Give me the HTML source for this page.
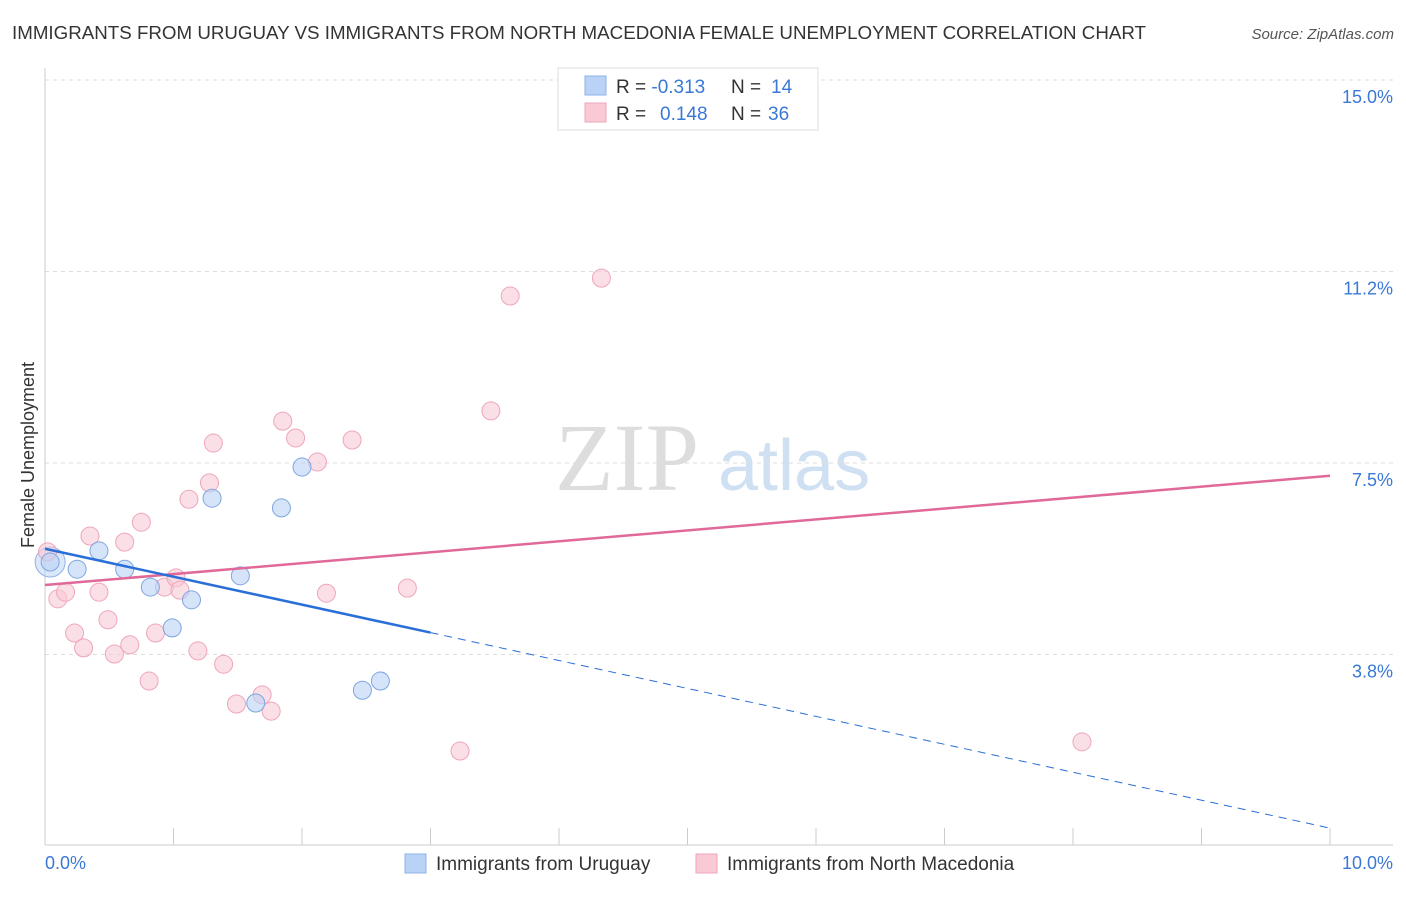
<!DOCTYPE html>
<html><head><meta charset="utf-8"><style>
body{margin:0;background:#fff;font-family:"Liberation Sans",sans-serif;}
</style></head><body>
<svg id="chart" width="1406" height="892" xmlns="http://www.w3.org/2000/svg" font-family="Liberation Sans, sans-serif">
<text x="12" y="39" font-size="18" fill="#333" textLength="1134" lengthAdjust="spacingAndGlyphs">IMMIGRANTS FROM URUGUAY VS IMMIGRANTS FROM NORTH MACEDONIA FEMALE UNEMPLOYMENT CORRELATION CHART</text>
<text x="1394" y="39" font-size="15" fill="#555" font-style="italic" text-anchor="end">Source: ZipAtlas.com</text>
<text x="555" y="490" font-size="96" fill="#ddd" font-family="Liberation Serif, serif">ZIP</text>
<text x="718" y="490" font-size="72" fill="#cfe0f3">atlas</text>
<g id="grid"></g>
<g id="axes"></g>
<g id="marks"></g>
<text transform="translate(34,455) rotate(-90)" font-size="18" fill="#333" text-anchor="middle">Female Unemployment</text>
<text x="45" y="869" font-size="18" fill="#3a78d6">0.0%</text>
<text x="1393" y="869" font-size="18" fill="#3a78d6" text-anchor="end">10.0%</text>
<g>
<rect x="558" y="68" width="260" height="62" fill="#fff" stroke="#ddd"/>
<rect x="585" y="76" width="21" height="19" fill="#b9d2f5" stroke="#8fb2e8"/>
<rect x="585" y="103" width="21" height="19" fill="#f9c9d6" stroke="#eea6ba"/>
<text x="616" y="93" font-size="19" fill="#333">R = <tspan fill="#3a78d6">-0.313</tspan><tspan x="731">N = </tspan><tspan x="771" fill="#3a78d6">14</tspan></text>
<text x="616" y="120" font-size="19" fill="#333">R = <tspan x="660" fill="#3a78d6">0.148</tspan><tspan x="731">N = </tspan><tspan x="768" fill="#3a78d6">36</tspan></text>
</g>
<g>
<rect x="405" y="854" width="21" height="19" fill="#b9d2f5" stroke="#8fb2e8"/>
<text x="436" y="870" font-size="19" fill="#333">Immigrants from Uruguay</text>
<rect x="696" y="854" width="21" height="19" fill="#f9c9d6" stroke="#eea6ba"/>
<text x="727" y="870" font-size="19" fill="#333">Immigrants from North Macedonia</text>
</g>
</svg>
<script>
const yTicks=[3.75,7.5,11.25,15];
const yTickLabels=["3.8%","7.5%","11.2%","15.0%"];
const blueX=[0.04,0.25,0.42,0.62,0.82,0.99,1.14,1.30,1.52,1.64,1.84,2.00,2.47,2.61];
const blueY=[5.56,5.42,5.78,5.42,5.07,4.27,4.82,6.81,5.29,2.80,6.62,7.42,3.05,3.23];
const pinkX=[0.02,0.10,0.16,0.23,0.30,0.35,0.42,0.49,0.54,0.62,0.66,0.75,0.81,0.86,0.93,1.02,1.05,1.12,1.19,1.28,1.31,1.39,1.49,1.69,1.76,1.85,1.95,2.12,2.19,2.39,2.82,3.23,3.47,3.62,4.33,8.07];
const pinkY=[5.76,4.84,4.97,4.17,3.88,6.07,4.97,4.43,3.76,5.95,3.94,6.34,3.23,4.17,5.07,5.25,5.01,6.79,3.82,7.11,7.89,3.56,2.78,2.96,2.64,8.32,7.99,7.52,4.95,7.95,5.05,1.86,8.52,10.77,11.12,2.04];
const blueTrend=[5.82,0.35];
const pinkTrend=[5.11,7.25];
const blueSolidEnd=3.0;
const NS="http://www.w3.org/2000/svg";
const xs=v=>45+v*128.5, ys=v=>846-v*51.07;
function mk(t,a,p){const e=document.createElementNS(NS,t);for(const k in a)e.setAttribute(k,a[k]);p.appendChild(e);return e;}
const grid=document.getElementById('grid'),axes=document.getElementById('axes'),marks=document.getElementById('marks');
yTicks.forEach((t,i)=>{
 const l=mk('line',{x1:45,x2:1393,y1:ys(t),y2:ys(t),stroke:'#ddd','stroke-dasharray':'4,4'},grid);
 
 
 const tx=mk('text',{x:1393,y:ys(t)+23,'font-size':18,fill:'#3a78d6','text-anchor':'end'},grid);
 tx.textContent=yTickLabels[i];
 
 
});
const ya=mk('line',{x1:45,x2:45,y1:68,y2:845,stroke:'#ccc'},axes);


const xa=mk('line',{x1:45,x2:1393,y1:845,y2:845,stroke:'#ccc'},axes);


for(let i=1;i<=10;i++){const t=mk('line',{x1:xs(i),x2:xs(i),y1:828,y2:845,stroke:'#ccc'},axes);
 
 }
function pts(X,Y,fill,stroke,name){X.forEach((x,i)=>{const c=mk('circle',{cx:xs(x),cy:ys(Y[i]),r:9,fill:fill,'fill-opacity':0.6,stroke:stroke,'stroke-width':1},marks);
 
 });}
const big=mk('circle',{cx:xs(0.04),cy:ys(5.56),r:15,fill:'#b9d2f5','fill-opacity':0.5,stroke:'#8fb2e8'},marks);


pts(pinkX,pinkY,'#f9c9d6','#eea6ba','macedonia-point');
pts(blueX,blueY,'#b9d2f5','#7ea6e0','uruguay-point');
const lin=(tr,x)=>tr[0]+(tr[1]-tr[0])*x/10;
const pl=mk('line',{x1:xs(0),y1:ys(lin(pinkTrend,0)),x2:xs(10),y2:ys(lin(pinkTrend,10)),stroke:'#e0699a','stroke-width':2.5},marks);


const bl=mk('line',{x1:xs(0),y1:ys(lin(blueTrend,0)),x2:xs(blueSolidEnd),y2:ys(lin(blueTrend,blueSolidEnd)),stroke:'#2a6fd8','stroke-width':2.5},marks);


const bd=mk('line',{x1:xs(blueSolidEnd),y1:ys(lin(blueTrend,blueSolidEnd)),x2:xs(10),y2:ys(lin(blueTrend,10)),stroke:'#2a6fd8','stroke-width':1,'stroke-dasharray':'8,6'},marks);


</script>
</body></html>
